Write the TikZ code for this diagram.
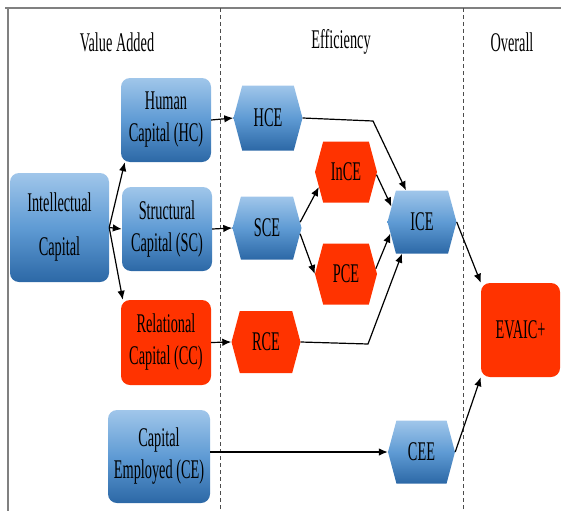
\documentclass[tikz,border=0pt]{standalone}
\usepackage{fontspec}
\setmainfont{Liberation Serif}[FakeStretch=0.53]
\usetikzlibrary{shapes.symbols,arrows.meta,calc}
\definecolor{bT}{RGB}{160,198,234}
\definecolor{bM}{RGB}{95,155,212}
\definecolor{bB}{RGB}{44,104,166}
\definecolor{rd}{RGB}{255,51,0}
\begin{document}
\begin{tikzpicture}[x=1pt,y=-1pt,
  txt/.style={font=\fontsize{27}{32}\selectfont, align=center, text=black},
  bluefill/.style={top color=bT, bottom color=bB, middle color=bM},
  redfill/.style={fill=rd},
  boxnode/.style={txt, rectangle, rounded corners=9pt, inner sep=0pt},
  hexnode/.style={txt, signal, signal to=east and west, signal pointer angle=150, inner sep=0pt},
  arr/.style={line width=1.2pt, -{Latex[length=9pt,width=7.5pt]}},
  sep/.style={dash pattern=on 4pt off 3pt, line width=0.9pt, black!70},
  frame/.style={line width=1.6pt, black!50}
]
\useasboundingbox (0,0) rectangle (561,511);
% frame and separators
\draw[frame] (5,8) -- (561,8);
\draw[frame] (8,8) -- (8,511);
\draw[sep] (220,8) -- (220,511);
\draw[sep] (463,8) -- (463,511);
% headers
\node[txt] (hVA) at (117,42) {Value Added};
\node[txt] (hEF) at (341,42) {Efficiency};
\node[txt] (hOV) at (512,42) {Overall};
% boxes
\node[boxnode, bluefill, minimum width=99pt, minimum height=109pt] (IC) at (59.5,227.5) {Intellectual\\[12pt]Capital};
\node[boxnode, bluefill, minimum width=90pt, minimum height=84pt] (HC) at (166,120) {Human\\Capital (HC)};
\node[boxnode, bluefill, minimum width=90pt, minimum height=84pt] (SC) at (167,229) {Structural\\Capital (SC)};
\node[boxnode, redfill, minimum width=90pt, minimum height=85pt] (RC) at (166,342.5) {Relational\\Capital (CC)};
\node[boxnode, bluefill, minimum width=102pt, minimum height=93pt] (CE) at (159,456.5) {Capital\\Employed (CE)};
\node[boxnode, redfill, minimum width=79pt, minimum height=94pt] (EV) at (520.5,330) {EVAIC+};
% hexagons
\node[hexnode, bluefill, minimum width=69pt, minimum height=65pt] (HCE) at (268,118) {HCE};
\node[hexnode, bluefill, minimum width=69pt, minimum height=63pt] (SCE) at (267,228) {SCE};
\node[hexnode, redfill, minimum width=69pt, minimum height=62pt] (RCE) at (266,342) {RCE};
\node[hexnode, redfill, minimum width=62pt, minimum height=61pt] (InCE) at (346,172) {InCE};
\node[hexnode, redfill, minimum width=62pt, minimum height=61pt] (PCE) at (346,274) {PCE};
\node[hexnode, bluefill, minimum width=69pt, minimum height=63pt] (ICE) at (422,222) {ICE};
\node[hexnode, bluefill, minimum width=67pt, minimum height=63pt] (CEE) at (421.5,452) {CEE};
% helper coordinates
\coordinate (fork) at (IC.east);
\coordinate (bendH) at (373,121);
\coordinate (bendR) at (368,344);
% connectors
\draw[arr] (fork) -- ($(HC.south west)+(4,0)$);
\draw[arr] (fork) -- (SC.west);
\draw[arr] (fork) -- ($(RC.north west)+(2,0)$);
\draw[arr] (HC.east) -- (HCE.west);
\draw[arr] (SC.east) -- (SCE.west);
\draw[arr] (RC.east) -- (RCE.west);
\draw[arr] (HCE.east) -- (bendH) -- ($(ICE.north)+(-16,0)$);
\draw[arr] (SCE.10) -- (InCE.209);
\draw[arr] (SCE.-10) -- (PCE.west);
\draw[arr] (InCE.-5) -- (ICE.153);
\draw[arr] (PCE.10) -- (ICE.200);
\draw[arr] (RCE.east) -- (bendR) -- ($(ICE.south)+(-20,0)$);
\draw[arr] (ICE.east) -- (EV.north west);
\draw[arr] (CEE.east) -- (EV.south west);
\draw[arr] (CE.east |- CEE.west) -- (CEE.west);
\end{tikzpicture}
\end{document}
